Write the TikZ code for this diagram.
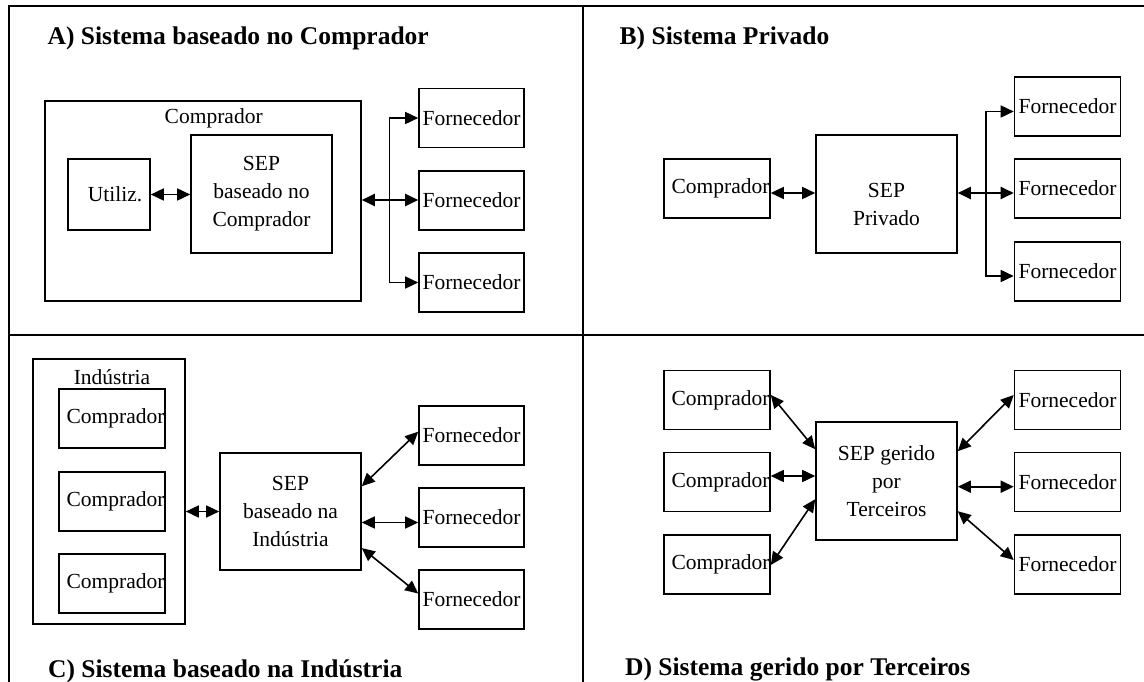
\documentclass[tikz,border=0pt]{standalone}
\usepackage{fontspec}
\setmainfont{Liberation Serif}
\usetikzlibrary{arrows.meta}
\tikzset{
  box/.style={draw, line width=1.6pt, inner sep=0pt, align=center, font=\fontsize{21.5}{28}\selectfont},
  lbl/.style={inner sep=0pt, align=center, font=\fontsize{21.5}{28}\selectfont},
  ttl/.style={anchor=base west, inner sep=0pt, font=\fontsize{25.5}{30}\selectfont\bfseries},
  tipA/.tip={Triangle[length=13pt,width=12pt]},
  conn/.style={line width=1.6pt, tipA-tipA},
  conr/.style={line width=1.6pt, -tipA},
  frame/.style={line width=2.2pt},
  fbox/.style={box, minimum width=105pt, minimum height=59pt},
  cbox/.style={box, minimum width=106pt, minimum height=59pt},
  sepbox/.style={box, minimum width=141pt, minimum height=118pt},
}
\begin{document}
\begin{tikzpicture}[x=1pt,y=-1pt]
\useasboundingbox (0,0) rectangle (1144,682);
% frame
\draw[frame] (9,682) -- (9,6) -- (1144,6);
\draw[frame] (583,6) -- (583,682);
\draw[frame] (9,335) -- (1144,335);
% titles
\node[ttl] (tA) at (47.5,44.5) {A) Sistema baseado no Comprador};
\node[ttl] (tB) at (619.5,44.5) {B) Sistema Privado};
\node[ttl] (tC) at (48,677) {C) Sistema baseado na Indústria};
\node[ttl] (tD) at (625,675) {D) Sistema gerido por Terceiros};

% ---------- A
\node[box, minimum width=316pt, minimum height=200pt] (compA) at (203,201) {};
\node[lbl] (compAlbl) at (213.7,118) {Comprador};
\node[box, minimum width=82pt, minimum height=71pt] (utilA) at (109,194.5) {\hspace*{12pt}Utiliz.};
\node[sepbox] (sepA) at (261.5,194) {SEP\\baseado no\\Comprador};
\node[fbox] (fA1) at (471.5,118) {Fornecedor};
\node[fbox] (fA2) at (471.5,200.5) {Fornecedor};
\node[fbox] (fA3) at (471.5,282.5) {Fornecedor};
\coordinate (busA) at (389.6,200);
\draw[conn] (utilA.east) -- (sepA.west |- utilA.east);
\draw[conn, line width=2.2pt] (compA.east |- busA) -- (fA2.west |- busA);
\draw[conr] (busA) |- (fA1.west);
\draw[conr] (busA) |- (fA3.west);

% ---------- B
\node[cbox] (compB) at (717,188.5) {\hspace*{7pt}Comprador};
\node[sepbox] (sepB) at (886.5,194) {};
\node[lbl] (sepBtxt) at (886.5,204) {SEP\\Privado};
\node[cbox] (fB1) at (1067.5,106.5) {Fornecedor};
\node[cbox] (fB2) at (1067.5,188.5) {Fornecedor};
\node[cbox] (fB3) at (1067.5,271.5) {Fornecedor};
\coordinate (b0) at ([yshift=-4.5pt]compB.east);
\draw[conn] (b0) -- (b0 -| sepB.west);
\coordinate (busB) at (986,193);
\draw[conn, line width=2.2pt] (sepB.east |- busB) -- (fB2.west |- busB);
\draw[conr] (busB) |- ([yshift=-5pt]fB1.west);
\draw[conr] (busB) |- ([yshift=-4.5pt]fB3.west);

% ---------- C
\node[box, minimum width=152pt, minimum height=265pt] (indC) at (109,491.5) {};
\node[lbl] (indClbl) at (112,377) {Indústria};
\node[cbox] (cC1) at (112,418.5) {\hspace*{7pt}Comprador};
\node[cbox] (cC2) at (112,501.5) {\hspace*{7pt}Comprador};
\node[cbox] (cC3) at (112,583.5) {\hspace*{7pt}Comprador};
\node[sepbox, minimum height=117pt] (sepC) at (290.5,511.5) {SEP\\baseado na\\Indústria};
\node[fbox] (fC1) at (471.5,435.5) {Fornecedor};
\node[fbox] (fC2) at (471.5,517.5) {Fornecedor};
\node[fbox] (fC3) at (471.5,599.5) {Fornecedor};
\draw[conn] (indC.east |- sepC.west) -- (sepC.west);
\draw[conn] ([yshift=-34pt]sepC.north east) -- ([yshift=3.8pt]fC1.west);
\draw[conn] ([yshift=-11pt]sepC.east) -- ([yshift=-5pt]fC2.west);
\draw[conn] ([yshift=22.7pt]sepC.south east) -- ([yshift=6pt]fC3.west);

% ---------- D
\node[cbox] (cD1) at (717,400) {\hspace*{7pt}Comprador};
\node[cbox] (cD2) at (717,482) {\hspace*{7pt}Comprador};
\node[cbox] (cD3) at (717,564.5) {\hspace*{7pt}Comprador};
\node[sepbox] (sepD) at (886.5,481) {SEP gerido\\por\\Terceiros};
\node[cbox] (fD1) at (1067.5,400) {Fornecedor};
\node[cbox] (fD2) at (1067.5,482) {Fornecedor};
\node[cbox] (fD3) at (1067.5,564.5) {Fornecedor};
\draw[conn] ([yshift=5pt]cD1.east) -- ([yshift=-28pt]sepD.north west);
\coordinate (d0) at ([yshift=6pt]cD2.east);
\draw[conn] (d0) -- (d0 -| sepD.west);
\draw[conn] ([yshift=-78pt]sepD.north west) -- ([yshift=-0.5pt]cD3.east);
\draw[conn] ([yshift=-30pt]sepD.north east) -- ([yshift=5pt]fD1.west);
\draw[conn] ([yshift=-5.7pt]sepD.east) -- ([yshift=-4.7pt]fD2.west);
\draw[conn] ([yshift=-90pt]sepD.north east) -- ([yshift=4.5pt]fD3.west);
\end{tikzpicture}
\end{document}
